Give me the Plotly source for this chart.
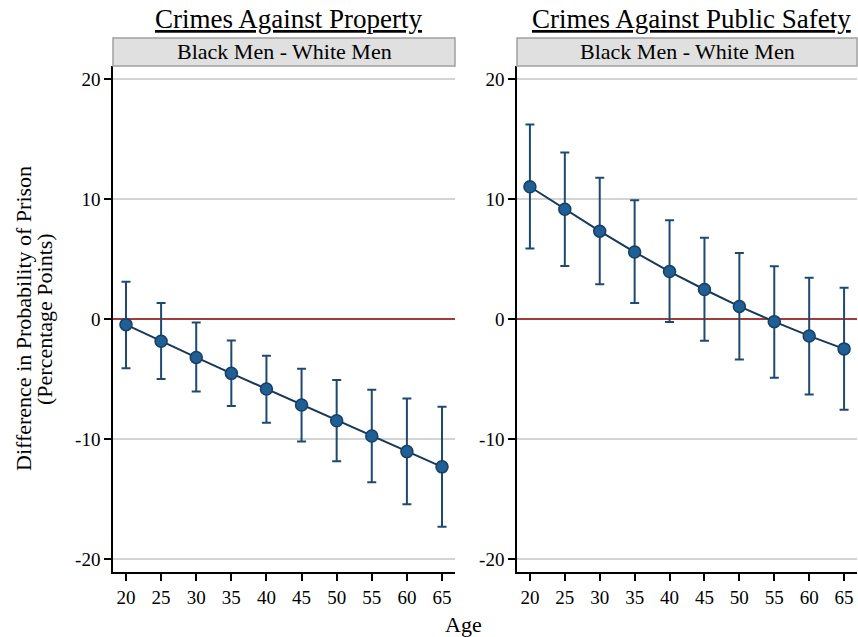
import plotly.graph_objects as go

ages = [20, 25, 30, 35, 40, 45, 50, 55, 60, 65]

prop_est = [-0.47, -1.86, -3.2, -4.53, -5.83, -7.16, -8.48, -9.75, -11.05, -12.32]
prop_hi = [3.1, 1.33, -0.3, -1.8, -3.07, -4.14, -5.09, -5.89, -6.63, -7.32]
prop_lo = [-4.1, -5.0, -6.05, -7.24, -8.65, -10.2, -11.85, -13.6, -15.44, -17.3]

safe_est = [11.02, 9.15, 7.32, 5.58, 3.95, 2.46, 1.05, -0.22, -1.41, -2.49]
safe_hi = [16.2, 13.87, 11.77, 9.89, 8.23, 6.77, 5.5, 4.39, 3.43, 2.6]
safe_lo = [5.88, 4.42, 2.9, 1.33, -0.25, -1.82, -3.37, -4.89, -6.3, -7.56]

panel_titles = ["Crimes Against Property", "Crimes Against Public Safety"]
strip_label = "Black Men - White Men"
y_ticks = [-20, -10, 0, 10, 20]
y_ticktext = ["-20", "-10", "0", "10", "20"]
x_ticks = ages
y_title_lines = ["Difference in Probability of Prison", "(Percentage Points)"]

W, H = 858, 637
FONT = "Liberation Serif"
MARK = "#1f5f93"
MARK_EDGE = "#173f66"
LINE = "#16395a"
ERR = "#1e4a72"

def px(x):
    return x / W

def py(y):
    return 1 - y / H

fig = go.Figure()

panels = [
    (prop_est, prop_lo, prop_hi, "x", "y", (113, 455)),
    (safe_est, safe_lo, safe_hi, "x2", "y2", (517, 857)),
]

for est, lo, hi, xa, ya, _ in panels:
    fig.add_trace(go.Scatter(
        x=ages, y=est, xaxis=xa, yaxis=ya, mode="lines+markers",
        line=dict(color=LINE, width=2),
        marker=dict(size=12, color=MARK, line=dict(color=MARK_EDGE, width=1.5)),
        error_y=dict(type="data", symmetric=False,
                     array=[h - e for h, e in zip(hi, est)],
                     arrayminus=[e - l for e, l in zip(est, lo)],
                     color=ERR, thickness=2, width=4.5),
        showlegend=False, hoverinfo="skip",
    ))

y_dom = [py(572), py(66)]
axis_common = dict(showline=True, linecolor="black", linewidth=1.5,
                   ticks="outside", ticklen=7, tickwidth=1.5, tickcolor="black",
                   tickfont=dict(family=FONT, size=19, color="black"))

layout = dict(
    width=W, height=H, margin=dict(l=0, r=0, t=0, b=0),
    paper_bgcolor="white", plot_bgcolor="white",
    font=dict(family=FONT, color="black"),
    shapes=[], annotations=[],
)
for i, (_, _, _, xa, ya, (x0, x1)) in enumerate(panels):
    xk = "xaxis" if i == 0 else "xaxis2"
    yk = "yaxis" if i == 0 else "yaxis2"
    layout[xk] = dict(domain=[px(x0), px(x1)], range=[18.15, 66.85],
                      tickvals=x_ticks, showgrid=False, zeroline=False,
                      anchor=ya, **axis_common)
    layout[yk] = dict(domain=y_dom, range=[-21.08, 21.08],
                      tickvals=y_ticks, ticktext=y_ticktext,
                      showgrid=True, gridcolor="#d4d4d4", gridwidth=1.5,
                      zeroline=True, zerolinecolor="#a03c3c", zerolinewidth=1.8,
                      anchor=xa, **axis_common)
    layout["shapes"].append(dict(type="rect", xref="paper", yref="paper",
                                 x0=px(x0), x1=px(x1), y0=py(66), y1=py(38),
                                 fillcolor="#e0e0e0",
                                 line=dict(color="#a0a0a0", width=1.5)))
    layout["annotations"].append(dict(text=strip_label, xref="paper", yref="paper",
                                      x=px((x0 + x1) / 2), y=py(52), showarrow=False,
                                      xanchor="center", yanchor="middle",
                                      font=dict(family=FONT, size=22, color="black")))
    layout["annotations"].append(dict(text="<u>" + panel_titles[i] + "</u>",
                                      xref="paper", yref="paper",
                                      x=px((x0 + x1) / 2 + 4), y=py(19), showarrow=False,
                                      xanchor="center", yanchor="middle",
                                      font=dict(family=FONT, size=27, color="black")))

layout["annotations"].append(dict(text="Age", xref="paper", yref="paper",
                                  x=px(463), y=py(624), showarrow=False,
                                  xanchor="center", yanchor="middle",
                                  font=dict(family=FONT, size=22, color="black")))
for line_text, xc in zip(y_title_lines, [24, 45]):
    layout["annotations"].append(dict(text=line_text, xref="paper", yref="paper",
                                      x=px(xc), y=py(319), showarrow=False, textangle=-90,
                                      xanchor="center", yanchor="middle",
                                      font=dict(family=FONT, size=22, color="black")))

fig.update_layout(**layout)
fig.write_html("out.html", config={"displayModeBar": False},
               post_script="document.body.style.margin='0';")
